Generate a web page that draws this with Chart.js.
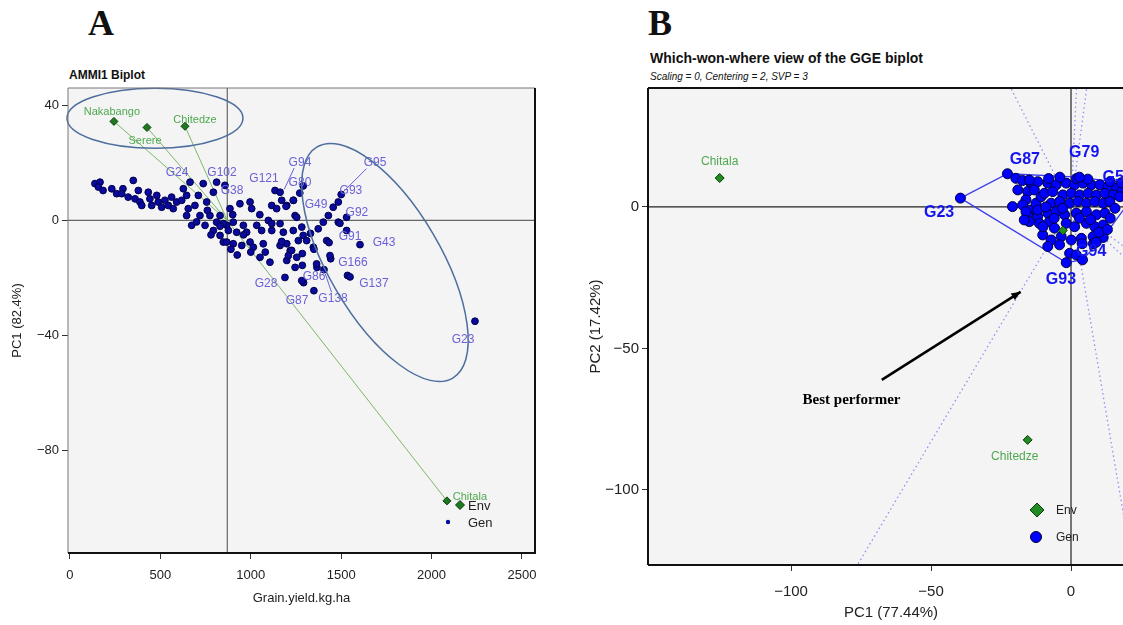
<!DOCTYPE html>
<html>
<head>
  <meta charset="utf-8">
  <title>AMMI1 and GGE biplots</title>
  <script src="https://cdn.jsdelivr.net/npm/chart.js"></script>
  <style>
    body { margin:0; background:#fff; width:1123px; height:625px; overflow:hidden; position:relative;
           font-family:'Liberation Sans',Arial,sans-serif; color:#111; }
    .lbl { position:absolute; white-space:nowrap; }
    .panel { position:absolute; font-family:'Liberation Serif','Times New Roman',serif; font-weight:bold; font-size:36px; }
    #wrapA { position:absolute; left:0; top:60px; width:560px; height:560px; }
    #wrapB { position:absolute; left:580px; top:40px; width:560px; height:585px; }
  </style>
</head>
<body>
  <div class="panel" style="left:88px;top:2px">A</div>
  <div class="panel" style="left:648px;top:2px">B</div>
  <div class="lbl" style="left:69px;top:68px;font-size:12px;font-weight:bold">AMMI1 Biplot</div>
  <div class="lbl" style="left:650px;top:50px;font-size:14px;font-weight:bold">Which-won-where view of the GGE biplot</div>
  <div class="lbl" style="left:650px;top:71px;font-size:10px;font-style:italic">Scaling = 0, Centering = 2, SVP = 3</div>
  <div id="wrapA"><canvas id="chartA"></canvas></div>
  <div id="wrapB"><canvas id="chartB"></canvas></div>
  <script>
    // ---- panel A : AMMI1 biplot (grain yield vs PC1) ----
    const genAX = [138,166,157,183,231,258,293,286,322,350,378,360,387,397,433,442,452,480,488,507,
                   525,544,562,571,590,618,627,645,664,654,691,710,737,756,793,645,673,719,747,774,
                   793,811,830,848,867,811,857,885,940,996,1005,700,830,848,876,903,922,959,977,1033,
                   1060,996,950,903,867,1014,1069,1134,1162,1171,1116,1143,1199,1235,1245,1254,1097,1116,1162,1116,
                   1180,1235,1282,1290,1309,1263,1199,1162,1346,1373,1401,1429,1456,1484,1420,1484,1530,1530,1493,1604,
                   1433,1349,1285,1218,1442,1366,1405,1245,1285,1535,1549,1292,1349,1189,1199,1171,1226,1208,1254,1051,
                   1106,1282,1364,1438,1080,1000,2240,1236,1195,1271,1290,1500,780,890,925,960,760,830,900,1050,1330];
    const genAY = [12.8,13.3,11.6,10.4,11.0,9.3,11.0,9.3,8.1,13.9,10.4,7.5,6.4,5.2,9.8,7.5,5.2,8.7,6.4,4.6,
                   7.0,5.2,8.1,4.1,6.4,7.0,11.0,8.7,13.3,4.1,5.2,8.7,12.8,6.4,9.8,1.7,-1.7,1.7,-1.7,1.7,
                   -3.5,-0.6,-5.2,-7.5,-1.7,13.3,12.2,4.1,5.8,6.4,4.1,-0.5,1.7,-1.1,-3.5,-0.6,-4.1,-1.7,-4.1,-1.7,
                   -3.5,-7.5,-8.7,-8.1,-7.5,-9.3,-8.1,10.4,9.8,7.0,5.2,4.1,5.2,7.0,1.7,1.1,0,-1.1,-1.1,-3.5,
                   -4.1,-3.5,-2.3,-5.2,-7.0,-7.0,-8.1,-8.7,-9.3,-2.9,-0.6,1.7,4.6,6.4,-7.0,-0.6,-3.5,1.1,-1.0,-8.4,
                   -7.7,-10,-11.5,-10.5,-13.3,-16.3,-17.1,-16.3,-15.6,-19.1,-19.6,-21.6,-24.4,-19.8,-13.9,-7.3,-10.4,-12.2,-12.8,-12.8,
                   -14.5,-20.9,-15.1,-12.2,-11,-11,-35,7.0,4.9,9.5,12,9,-5,-10,-12,-5,3.5,-2,2,2,-4.5];
    const envA = ['Nakabango','Serere','Chitedze','Chitala'];
    const envAX = [243,426,636,2085];
    const envAY = [34.4,32.3,32.7,-97.4];
    const envLabAX = [232,415,691,2212];
    const envLabAY = [37.6,27.5,34.8,-96];
    const meanYield = 870;
    const labA  = ['G24','G102','G38','G121','G94','G80','G95','G93','G49','G92','G91','G43','G166','G137','G28','G86','G87','G138','G23'];
    const labAX = [592,841,896,1073,1272,1272,1687,1554,1361,1587,1549,1737,1565,1681,1084,1350,1256,1455,2174];
    const labAY = [16.7,16.7,10.4,14.6,20.2,13.2,20.2,10.4,5.6,2.8,-5.6,-7.7,-14.6,-21.9,-21.9,-19.5,-27.8,-27.1,-41.4];
    // leader lines: [fromX, fromY, toX, toY]
    const leadA = [[1240,18.2,1185,10.8],[1640,18.0,1505,9.5],[1412,-18.5,1447,-25]];
    const xTicksA = [0,500,1000,1500,2000,2500];
    const yTicksA = [40,0,-40,-80];
    // hand-drawn ellipses (centre in data units)
    const ellCX = [470,1742];
    const ellCY = [35.5,-14.6];

    // ---- panel B : which-won-where GGE biplot ----
    const genBX = [-22.7,-19.7,-17.3,-14.3,-11.9,-15.5,-13.1,-16.1,-17.3,-20.9,-14.3,-12.5,-15.5,-11.9,-10.7,
                   -14.9,-8.3,-5.3,-1.7,1.3,4.3,7.3,10.3,13.3,16.3,18.2,
                   -9.5,-6.5,-2.9,0.1,3.1,6.1,9.1,12.1,15.1,17.5,
                   -7.1,-4.1,-0.5,2.5,5.5,8.5,11.5,13.9,
                   -16.1,-11.9,-8.3,-5.3,-2.3,1.9,5.5,9.1,12.1,15.7,
                   -14.9,-11.3,-7.7,-5.9,-1.7,1.3,5.5,8.5,11.5,
                   -10.1,-7.1,-3.5,0.1,3.7,7.9,11.5,-8.3,-4.1,
                   -0.5,1.9,-1.7,4.1,-39.5,
                   3,7,10,13,14,-6,4,8,-10,9,-16.7,-19,-8,-4,2,6,14,3,18,-9,-3];
    const genBY = [11.7,10.1,9.3,8.4,8.9,5.4,6.0,2.5,0.7,0.1,-1.1,1.3,-2.8,-3.4,3.6,
                   9.5,8.4,7.8,8.4,7.8,8.4,7.8,7.8,7.2,6.6,5.4,
                   4.8,5.4,4.2,4.8,4.2,4.8,4.2,4.8,4.2,3.6,
                   1.3,1.9,1.3,1.9,1.3,1.9,1.3,1.9,
                   -1.7,-1.1,-2.2,-1.7,-2.8,-2.2,-1.7,-2.8,-2.2,-0.5,
                   -5.2,-5.8,-5.2,-7.5,-5.8,-7.0,-5.8,-7.0,-6.4,
                   -9.9,-11.7,-10.5,-11.7,-11.1,-10.5,-10.8,-14.0,-13.4,
                   -16.4,-17.0,-19.7,-18.7,3.1,
                   -4,-4.5,-9,-8,-4,-4,-13,-13,-7,-12.5,-4.6,6,10,10.5,10,9.8,9,10.5,8.5,0,-0.5];
    const envB = ['Chitala','Chitedze',''];
    const envBX = [-125.5,-15.5,-2.9];
    const envBY = [10.2,-82.3,-8.3];
    const envLabBX = [-125.5,-20.1];
    const envLabBY = [15.9,-88.3];
    // polygon vertices (G23, G87, G79, G5, right edge, G94, lower, G93)
    const polyX = [-39.5,-22.7,3,18,19.5,11.5,4.1,-1.7];
    const polyY = [3.1,11.7,10.5,8.5,0,-10.8,-18.7,-19.7];
    const labB  = ['G87','G79','G5','G23','G94','G93'];
    const labBX = [-16.5,4.7,15.1,-47.1,7.2,-3.6];
    const labBY = [16.6,19.1,10.2,-2.1,-15.9,-25.8];
    const arrowB = [-67.6,-61.1,-18,-30];   // from x,y to x,y
    const noteB = {text:'Best performer', x:-78.4, y:-68.2};
    const xTicksB = [-100,-50,0];
    const yTicksB = [0,-50,-100];

    const SANS = "'Liberation Sans', Arial, sans-serif";
    const minus = v => v < 0 ? '\u2212' + Math.abs(v) : String(v);
    const pts = (xs, ys) => xs.map((x, i) => ({x: x, y: ys[i]}));

    function px(chart, x, y) {
      return [chart.scales.x.getPixelForValue(x), chart.scales.y.getPixelForValue(y)];
    }
    function line(ctx, a, b) {
      ctx.beginPath(); ctx.moveTo(a[0], a[1]); ctx.lineTo(b[0], b[1]); ctx.stroke();
    }
    function diamond(ctx, x, y, r, fill, stroke) {
      ctx.beginPath();
      ctx.moveTo(x, y - r); ctx.lineTo(x + r, y); ctx.lineTo(x, y + r); ctx.lineTo(x - r, y); ctx.closePath();
      ctx.fillStyle = fill; ctx.fill(); ctx.strokeStyle = stroke; ctx.lineWidth = 1; ctx.stroke();
    }
    function clipArea(ctx, a) {
      ctx.beginPath(); ctx.rect(a.left, a.top, a.width, a.height); ctx.clip();
    }

    function axes(xmin, xmax, ymin, ymax, xT, yT, xTitle, yTitle, o) {
      return {
        x: { type:'linear', min:xmin, max:xmax,
             afterBuildTicks: s => { s.ticks = xT.map(v => ({value:v})); },
             afterFit: s => { s.height = o.xh; },
             grid: { drawOnChartArea:false, tickLength:6, color:'#333', lineWidth:1 },
             border: { display:false },
             ticks: { callback: minus, font:{family:SANS, size:o.fs}, color:'#222', padding:o.xpad, maxRotation:0 },
             title: { display:true, text:xTitle, font:{family:SANS, size:o.fs}, color:'#222', padding:{top:0, bottom:o.xtp} } },
        y: { type:'linear', min:ymin, max:ymax,
             afterBuildTicks: s => { s.ticks = yT.map(v => ({value:v})); },
             afterFit: s => { s.width = 68; },
             grid: { drawOnChartArea:false, tickLength:6, color:'#333', lineWidth:1 },
             border: { display:false },
             ticks: { callback: minus, font:{family:SANS, size:o.fs}, color:'#222', padding:3 },
             title: { display:true, text:yTitle, font:{family:SANS, size:o.fs}, color:'#222', padding:{top:o.ytp, bottom:0} } }
      };
    }

    const panelA = {
      id: 'panelA',
      beforeDraw(chart) {
        const {ctx, chartArea:a} = chart;
        ctx.save(); ctx.fillStyle = '#f4f4f4'; ctx.fillRect(a.left, a.top, a.width, a.height); ctx.restore();
      },
      beforeDatasetsDraw(chart) {
        const {ctx, chartArea:a} = chart;
        ctx.save(); clipArea(ctx, a);
        ctx.strokeStyle = '#666'; ctx.lineWidth = 1.2;
        line(ctx, [chart.scales.x.getPixelForValue(meanYield), a.top], [chart.scales.x.getPixelForValue(meanYield), a.bottom]);
        line(ctx, [a.left, chart.scales.y.getPixelForValue(0)], [a.right, chart.scales.y.getPixelForValue(0)]);
        ctx.strokeStyle = '#7cb86a'; ctx.lineWidth = 1;
        envAX.forEach((x, i) => line(ctx, px(chart, meanYield, 0), px(chart, x, envAY[i])));
        ctx.strokeStyle = '#6a60d8'; ctx.lineWidth = 1;
        leadA.forEach(l => line(ctx, px(chart, l[0], l[1]), px(chart, l[2], l[3])));
        ctx.restore();
      },
      afterDatasetsDraw(chart) {
        const {ctx, chartArea:a} = chart;
        ctx.save();
        ctx.textAlign = 'center'; ctx.textBaseline = 'middle';
        ctx.font = '12px ' + SANS; ctx.fillStyle = '#6a60d8';
        labA.forEach((t, i) => { const p = px(chart, labAX[i], labAY[i]); ctx.fillText(t, p[0], p[1]); });
        ctx.font = '11px ' + SANS; ctx.fillStyle = '#4fa84f';
        envA.forEach((t, i) => { const p = px(chart, envLabAX[i], envLabAY[i]); ctx.fillText(t, p[0], p[1]); });
        // ellipses
        ctx.strokeStyle = '#4d6e9e'; ctx.lineWidth = 1.5;
        const shape = [[88, 30, 0], [134, 56, 1.04]];
        ellCX.forEach((x, i) => {
          const p = px(chart, x, ellCY[i]);
          ctx.beginPath(); ctx.ellipse(p[0], p[1], shape[i][0], shape[i][1], shape[i][2], 0, 2 * Math.PI); ctx.stroke();
        });
        // legend
        diamond(ctx, a.right - 75, a.bottom - 48, 4.5, '#1f7a1f', '#0b3d0b');
        ctx.beginPath(); ctx.arc(a.right - 87, a.bottom - 31, 2.2, 0, 2 * Math.PI); ctx.fillStyle = '#0a0a9c'; ctx.fill();
        ctx.textAlign = 'left'; ctx.font = '13px ' + SANS; ctx.fillStyle = '#222';
        ctx.fillText('Env', a.right - 67, a.bottom - 47);
        ctx.fillText('Gen', a.right - 67, a.bottom - 30);
        // frame
        ctx.strokeStyle = '#777'; ctx.lineWidth = 1;
        line(ctx, [a.left, a.top], [a.right, a.top]);
        line(ctx, [a.left, a.top], [a.left, a.bottom]);
        ctx.strokeStyle = '#111'; ctx.lineWidth = 2;
        line(ctx, [a.left, a.bottom], [a.right, a.bottom]);
        line(ctx, [a.right, a.top], [a.right, a.bottom + 1]);
        ctx.restore();
      }
    };

    new Chart(document.getElementById('chartA'), {
      type: 'scatter',
      data: { datasets: [
        { label:'Env', data: pts(envAX, envAY), pointStyle:'rectRot', pointRadius:4,
          backgroundColor:'#1f7a1f', borderColor:'#0b3d0b', borderWidth:1 },
        { label:'Gen', data: pts(genAX, genAY), pointStyle:'circle', pointRadius:3.4,
          backgroundColor:'#0a0a9c', borderColor:'#00004d', borderWidth:1 }
      ]},
      options: {
        responsive:true, maintainAspectRatio:false, animation:false,
        layout: { padding: { top:28, right:25, left:0, bottom:0 } },
        plugins: { legend:{display:false}, tooltip:{enabled:false} },
        scales: axes(-11, 2572, -115.5, 46, xTicksA, yTicksA, 'Grain.yield.kg.ha', 'PC1 (82.4%)',
                     { xh:67, fs:13, xtp:14, ytp:10, xpad:9 })
      },
      plugins: [panelA]
    });

    const panelB = {
      id: 'panelB',
      beforeDraw(chart) {
        const {ctx, chartArea:a} = chart;
        ctx.save(); ctx.fillStyle = '#f4f4f4'; ctx.fillRect(a.left, a.top, a.width, a.height); ctx.restore();
      },
      beforeDatasetsDraw(chart) {
        const {ctx, chartArea:a} = chart;
        ctx.save(); clipArea(ctx, a);
        ctx.strokeStyle = '#222'; ctx.lineWidth = 1.2;
        const o = px(chart, 0, 0);
        line(ctx, [o[0], a.top], [o[0], a.bottom]);
        line(ctx, [a.left, o[1]], [a.right, o[1]]);
        // sector lines perpendicular to the polygon sides
        ctx.strokeStyle = '#8f8ff5'; ctx.lineWidth = 1.3; ctx.setLineDash([1.5, 3]);
        polyX.forEach((x1, i) => {
          const y1 = polyY[i], x2 = polyX[(i + 1) % polyX.length], y2 = polyY[(i + 1) % polyY.length];
          const dx = x2 - x1, dy = y2 - y1;
          const t = -(x1 * dx + y1 * dy) / (dx * dx + dy * dy);
          const fx = x1 + t * dx, fy = y1 + t * dy, len = Math.hypot(fx, fy);
          line(ctx, o, px(chart, fx / len * 400, fy / len * 400));
        });
        ctx.restore();
      },
      afterDatasetsDraw(chart) {
        const {ctx, chartArea:a} = chart;
        ctx.save();
        ctx.textAlign = 'center'; ctx.textBaseline = 'middle';
        ctx.font = 'bold 16px ' + SANS; ctx.fillStyle = '#1414f0';
        labB.forEach((t, i) => { const p = px(chart, labBX[i], labBY[i]); ctx.fillText(t, p[0], p[1]); });
        ctx.font = '12px ' + SANS; ctx.fillStyle = '#4fa84f';
        envLabBX.forEach((x, i) => { const p = px(chart, x, envLabBY[i]); ctx.fillText(envB[i], p[0], p[1]); });
        // arrow
        const s = px(chart, arrowB[0], arrowB[1]), e = px(chart, arrowB[2], arrowB[3]);
        ctx.strokeStyle = '#000'; ctx.lineWidth = 2.5; line(ctx, s, e);
        const ang = Math.atan2(e[1] - s[1], e[0] - s[0]);
        ctx.beginPath(); ctx.moveTo(e[0], e[1]);
        ctx.lineTo(e[0] - 10 * Math.cos(ang - 0.4), e[1] - 10 * Math.sin(ang - 0.4));
        ctx.lineTo(e[0] - 10 * Math.cos(ang + 0.4), e[1] - 10 * Math.sin(ang + 0.4));
        ctx.closePath(); ctx.fillStyle = '#000'; ctx.fill();
        const n = px(chart, noteB.x, noteB.y);
        ctx.font = "bold 15px 'Liberation Serif', 'Times New Roman', serif"; ctx.fillText(noteB.text, n[0], n[1]);
        // legend
        diamond(ctx, a.left + 389, a.bottom - 55, 7, '#228b22', '#0b3d0b');
        ctx.beginPath(); ctx.arc(a.left + 388, a.bottom - 28, 5.5, 0, 2 * Math.PI);
        ctx.fillStyle = '#0000ff'; ctx.fill(); ctx.strokeStyle = '#000033'; ctx.lineWidth = 1; ctx.stroke();
        ctx.textAlign = 'left'; ctx.font = '12px ' + SANS; ctx.fillStyle = '#222';
        ctx.fillText('Env', a.left + 408, a.bottom - 54);
        ctx.fillText('Gen', a.left + 408, a.bottom - 27);
        // frame
        ctx.strokeStyle = '#111'; ctx.lineWidth = 2;
        line(ctx, [a.left, a.top], [a.right, a.top]);
        line(ctx, [a.left, a.top], [a.left, a.bottom]);
        line(ctx, [a.left, a.bottom], [a.right, a.bottom]);
        ctx.restore();
      }
    };

    new Chart(document.getElementById('chartB'), {
      type: 'scatter',
      data: { datasets: [
        { label:'Env', data: pts(envBX, envBY), pointStyle:'rectRot', pointRadius:4.5, order:0,
          backgroundColor:'#228b22', borderColor:'#0b3d0b', borderWidth:1 },
        { label:'Gen', data: pts(genBX, genBY), pointStyle:'circle', pointRadius:5, order:1,
          backgroundColor:'#0000ff', borderColor:'#000040', borderWidth:1 },
        { label:'polygon', type:'line', data: pts(polyX.concat(polyX[0]), polyY.concat(polyY[0])), order:2,
          showLine:true, pointRadius:0, borderColor:'#3c3cf0', borderWidth:1.3, fill:false, tension:0 }
      ]},
      options: {
        responsive:true, maintainAspectRatio:false, animation:false,
        layout: { padding: { top:48, right:0, left:0, bottom:0 } },
        plugins: { legend:{display:false}, tooltip:{enabled:false} },
        scales: axes(-151.1, 22.5, -126.5, 42, xTicksB, yTicksB, 'PC1 (77.44%)', 'PC2 (17.42%)',
                     { xh:60, fs:15, xtp:3, ytp:7, xpad:12 })
      },
      plugins: [panelB]
    });
  </script>
</body>
</html>
